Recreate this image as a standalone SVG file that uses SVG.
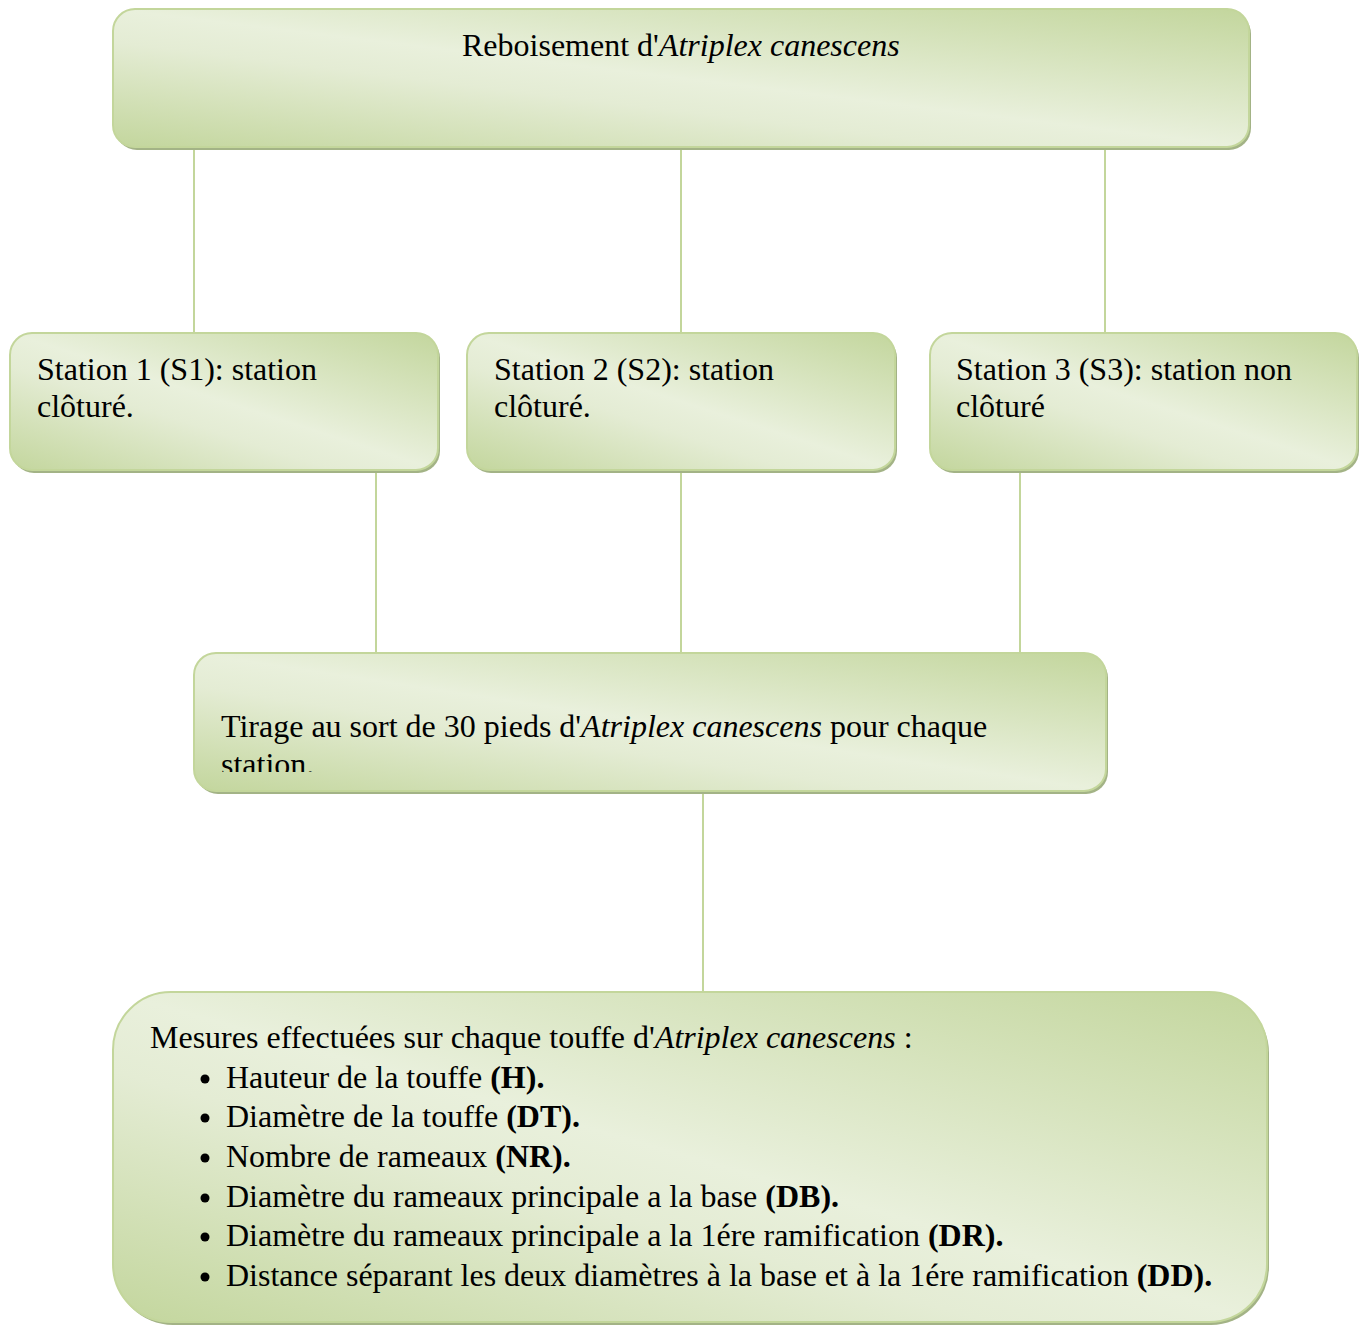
<svg xmlns="http://www.w3.org/2000/svg" width="1366" height="1325" viewBox="0 0 1366 1325">
<defs>
<linearGradient id="g" x1="1" y1="0" x2="0" y2="1">
<stop offset="0" stop-color="#c3d69d"/>
<stop offset="0.5" stop-color="#e9f0dc"/>
<stop offset="0.62" stop-color="#e4ecd4"/>
<stop offset="1" stop-color="#c3d69d"/>
</linearGradient>
<clipPath id="mc"><rect x="194" y="653" width="912" height="119"/></clipPath>
<style>
.sh{fill:#a3b386;}
.bx{fill:url(#g);stroke:#c3d69b;stroke-width:2;}
.cn{stroke:#c3d69b;stroke-width:2;fill:none;}
.bu{fill:#000;}
text{font-family:"Liberation Serif","Times New Roman",serif;font-size:32px;fill:#000;}
.i{font-style:italic;}
.b{font-weight:bold;}
</style>
</defs>
<rect width="1366" height="1325" fill="#fff"/>
<g id="connectors">
<line class="cn" x1="194" y1="147" x2="194" y2="333"/>
<line class="cn" x1="681" y1="147" x2="681" y2="333"/>
<line class="cn" x1="1105" y1="147" x2="1105" y2="333"/>
<line class="cn" x1="376" y1="470" x2="376" y2="653"/>
<line class="cn" x1="681" y1="470" x2="681" y2="653"/>
<line class="cn" x1="1020" y1="470" x2="1020" y2="653"/>
<line class="cn" x1="703" y1="791" x2="703" y2="992"/>
</g>
<g id="top">
<rect class="sh" x="115" y="12" width="1136" height="138" rx="22"/>
<rect class="bx" x="113" y="9" width="1136" height="138" rx="22"/>
<text x="462" y="56">Reboisement d'<tspan class="i">Atriplex canescens</tspan></text>
</g>
<g id="s1">
<rect class="sh" x="12" y="336" width="428" height="137" rx="22"/>
<rect class="bx" x="10" y="333" width="428" height="137" rx="22"/>
<text x="37" y="380">Station 1 (S1): station</text>
<text x="37" y="417">clôturé.</text>
</g>
<g id="s2">
<rect class="sh" x="469" y="336" width="428" height="137" rx="22"/>
<rect class="bx" x="467" y="333" width="428" height="137" rx="22"/>
<text x="494" y="380">Station 2 (S2): station</text>
<text x="494" y="417">clôturé.</text>
</g>
<g id="s3">
<rect class="sh" x="932" y="336" width="427" height="137" rx="22"/>
<rect class="bx" x="930" y="333" width="427" height="137" rx="22"/>
<text x="956" y="380">Station 3 (S3): station non</text>
<text x="956" y="417">clôturé</text>
</g>
<g id="mid">
<rect class="sh" x="196" y="656" width="912" height="138" rx="22"/>
<rect class="bx" x="194" y="653" width="912" height="138" rx="22"/>
<g clip-path="url(#mc)">
<text x="221" y="737">Tirage au sort de 30 pieds d'<tspan class="i">Atriplex canescens</tspan> pour chaque</text>
<text x="221" y="775">station.</text>
</g>
</g>
<g id="bottom">
<rect class="sh" x="115" y="995" width="1154" height="330" rx="58"/>
<rect class="bx" x="113" y="992" width="1154" height="330" rx="58"/>
<text x="150" y="1048">Mesures effectuées sur chaque touffe d'<tspan class="i">Atriplex canescens</tspan> :</text>
<circle class="bu" cx="205" cy="1079" r="4.5"/><text x="226" y="1088">Hauteur de la touffe <tspan class="b">(H).</tspan></text>
<circle class="bu" cx="205" cy="1118" r="4.5"/><text x="226" y="1127">Diamètre de la touffe <tspan class="b">(DT).</tspan></text>
<circle class="bu" cx="205" cy="1158" r="4.5"/><text x="226" y="1167">Nombre de rameaux <tspan class="b">(NR).</tspan></text>
<circle class="bu" cx="205" cy="1198" r="4.5"/><text x="226" y="1207">Diamètre du rameaux principale a la base <tspan class="b">(DB).</tspan></text>
<circle class="bu" cx="205" cy="1237" r="4.5"/><text x="226" y="1246">Diamètre du rameaux principale a la 1ére ramification <tspan class="b">(DR).</tspan></text>
<circle class="bu" cx="205" cy="1277" r="4.5"/><text x="226" y="1286">Distance séparant les deux diamètres à la base et à la 1ére ramification <tspan class="b">(DD).</tspan></text>
</g>
</svg>
